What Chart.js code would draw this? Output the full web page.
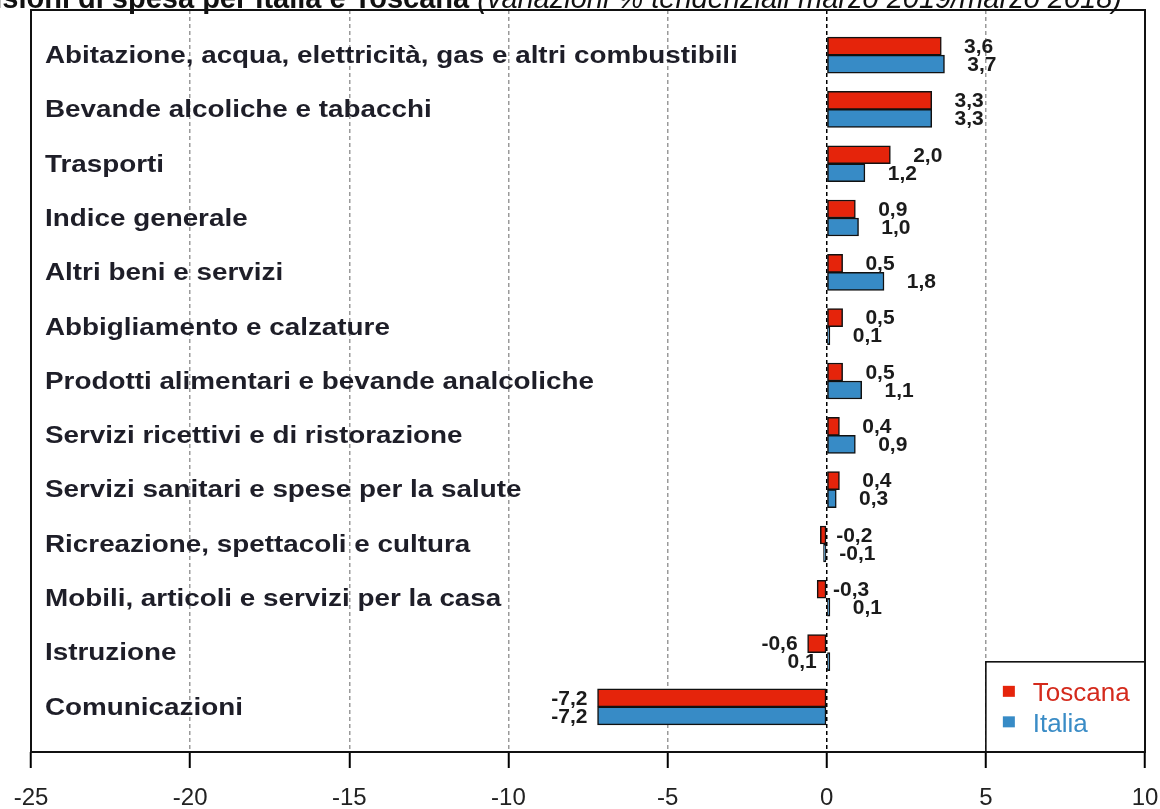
<!DOCTYPE html>
<html>
<head>
<meta charset="utf-8">
<script src="https://cdn.jsdelivr.net/npm/chart.js@4/dist/chart.umd.min.js"></script>
<style>
html,body{margin:0;padding:0;background:#fff;}
#wrap{width:1160px;height:809px;position:relative;}
</style>
</head>
<body>
<div id="wrap"><canvas id="c" width="1160" height="809"></canvas></div>
<script>
const categories = [
  "Abitazione, acqua, elettricità, gas e altri combustibili",
  "Bevande alcoliche e tabacchi",
  "Trasporti",
  "Indice generale",
  "Altri beni e servizi",
  "Abbigliamento e calzature",
  "Prodotti alimentari e bevande analcoliche",
  "Servizi ricettivi e di ristorazione",
  "Servizi sanitari e spese per la salute",
  "Ricreazione, spettacoli e cultura",
  "Mobili, articoli e servizi per la casa",
  "Istruzione",
  "Comunicazioni"
];
const toscana = [3.6, 3.3, 2.0, 0.9, 0.5, 0.5, 0.5, 0.4, 0.4, -0.2, -0.3, -0.6, -7.2];
const italia  = [3.7, 3.3, 1.2, 1.0, 1.8, 0.1, 1.1, 0.9, 0.3, -0.1, 0.1, 0.1, -7.2];
const seriesNames = ["Toscana", "Italia"];
const xTicks = [-25, -20, -15, -10, -5, 0, 5, 10];
const titleBold = "Divisioni di spesa per Italia e Toscana ";
const titleItalic = "(variazioni % tendenziali marzo 2019/marzo 2018)";

const RED = '#e5240b', BLUE = '#378bc6';
const FONT = '"Liberation Sans", Arial, sans-serif';

const fmt = v => v.toFixed(1).replace('.', ',');

const titlePlugin = {
  id: 'titleCut',
  afterDraw(chart) {
    const ctx = chart.ctx;
    ctx.save();
    ctx.fillStyle = '#111';
    ctx.textBaseline = 'alphabetic';
    ctx.font = 'italic 29px ' + FONT;
    const wi = ctx.measureText(titleItalic).width;
    const xEnd = 1122;
    ctx.textAlign = 'right';
    ctx.fillText(titleItalic, xEnd, 8);
    ctx.font = 'bold 29px ' + FONT;
    ctx.fillText(titleBold, xEnd - wi, 8);
    ctx.restore();
  }
};

const overlayPlugin = {
  id: 'overlay',
  beforeDatasetsDraw(chart) {
    // category labels inside the plot area (wide bold face)
    const ctx = chart.ctx;
    const ys = chart.scales.y, ca = chart.chartArea;
    ctx.save();
    ctx.font = 'bold 23px ' + FONT;
    ctx.fillStyle = '#1e1e28';
    ctx.textAlign = 'left';
    ctx.textBaseline = 'middle';
    categories.forEach((c, i) => {
      const y = ys.getPixelForValue(i);
      ctx.save();
      ctx.translate(ca.left + 14, y + 1.5);
      ctx.scale(1.21, 1);
      ctx.fillText(c, 0, 0);
      ctx.restore();
    });
    ctx.restore();
  },
  afterDatasetsDraw(chart) {
    const ctx = chart.ctx;
    const xs = chart.scales.x, ys = chart.scales.y;
    const ca = chart.chartArea;
    const x0 = xs.getPixelForValue(0);
    ctx.save();
    // value labels
    ctx.font = 'bold 21px ' + FONT;
    ctx.fillStyle = '#1b1b1b';
    ctx.textBaseline = 'middle';
    ctx.textAlign = 'right';
    chart.data.datasets.forEach((ds, di) => {
      const meta = chart.getDatasetMeta(di);
      meta.data.forEach((bar, i) => {
        const v = ds.data[i].x;
        const leftSide = toscana[i] < -0.5;
        const xx = leftSide ? Math.min(bar.x, x0) - 10 : bar.x + 52;
        ctx.fillText(fmt(v), xx, bar.y + 1);
      });
    });
    // legend box
    const lx1 = xs.getPixelForValue(5), lx2 = ca.right;
    const ly1 = ys.getPixelForValue(11.17), ly2 = ca.bottom;
    ctx.fillStyle = '#fff';
    ctx.fillRect(lx1, ly1, lx2 - lx1, ly2 - ly1);
    ctx.strokeStyle = '#000';
    ctx.lineWidth = 1.5;
    ctx.strokeRect(lx1, ly1, lx2 - lx1, ly2 - ly1);
    const legColors = [RED, BLUE];
    const legText = ['#d42a1c', '#3a8cc6'];
    ctx.font = '26px ' + FONT;
    ctx.textAlign = 'left';
    chart.data.datasets.forEach((ds, di) => {
      const cy = ly1 + 30 + di * 30.5;
      ctx.fillStyle = legColors[di];
      ctx.fillRect(lx1 + 17, cy - 6, 12, 11);
      ctx.fillStyle = legText[di];
      ctx.fillText(ds.label, lx1 + 47, cy + 2);
    });
    // frame
    ctx.strokeStyle = '#111';
    ctx.lineWidth = 2;
    ctx.strokeRect(ca.left, ca.top, ca.right - ca.left, ca.bottom - ca.top);
    ctx.restore();
  }
};

new Chart(document.getElementById('c'), {
  type: 'bar',
  data: {
    datasets: [
      { label: seriesNames[0], data: toscana.map((v, i) => ({x: v, y: i})),
        backgroundColor: RED, borderColor: '#111', borderWidth: 1.5, borderSkipped: false, barThickness: 18 },
      { label: seriesNames[1], data: italia.map((v, i) => ({x: v, y: i})),
        backgroundColor: BLUE, borderColor: '#111', borderWidth: 1.5, borderSkipped: false, barThickness: 18 }
    ]
  },
  options: {
    indexAxis: 'y',
    responsive: false,
    animation: false,
    devicePixelRatio: 1,
    layout: { padding: { top: 10, left: 31, right: 15, bottom: 0 } },
    plugins: { legend: { display: false }, title: { display: false }, tooltip: { enabled: false } },
    scales: {
      x: {
        type: 'linear', position: 'bottom', min: -25, max: 10,
        afterBuildTicks: axis => { axis.ticks = xTicks.map(v => ({value: v})); },
        afterFit: axis => { axis.paddingLeft = 0; axis.paddingRight = 0; axis.height = 57; },
        grid: {
          color: c => (c.tick && c.tick.value === 0) ? '#000' : '#9a9a9a',
          lineWidth: 1.5,
          drawTicks: true, tickLength: 16, tickColor: '#000', tickWidth: 2, tickBorderDash: []
        },
        border: { display: false, dash: [4, 3] },
        ticks: { color: '#222', font: { family: FONT, size: 24, lineHeight: 1 }, padding: 18, maxRotation: 0 }
      },
      y: {
        type: 'linear', position: 'left', reverse: true, min: -0.83, max: 12.83, offset: false,
        afterBuildTicks: axis => { axis.ticks = categories.map((c, i) => ({value: i})); },
        afterFit: axis => { axis.paddingTop = 0; axis.paddingBottom = 0; axis.width = 0; },
        grid: { display: false },
        border: { display: false },
        ticks: { display: false }
      }
    }
  },
  plugins: [titlePlugin, overlayPlugin]
});
</script>
</body>
</html>
